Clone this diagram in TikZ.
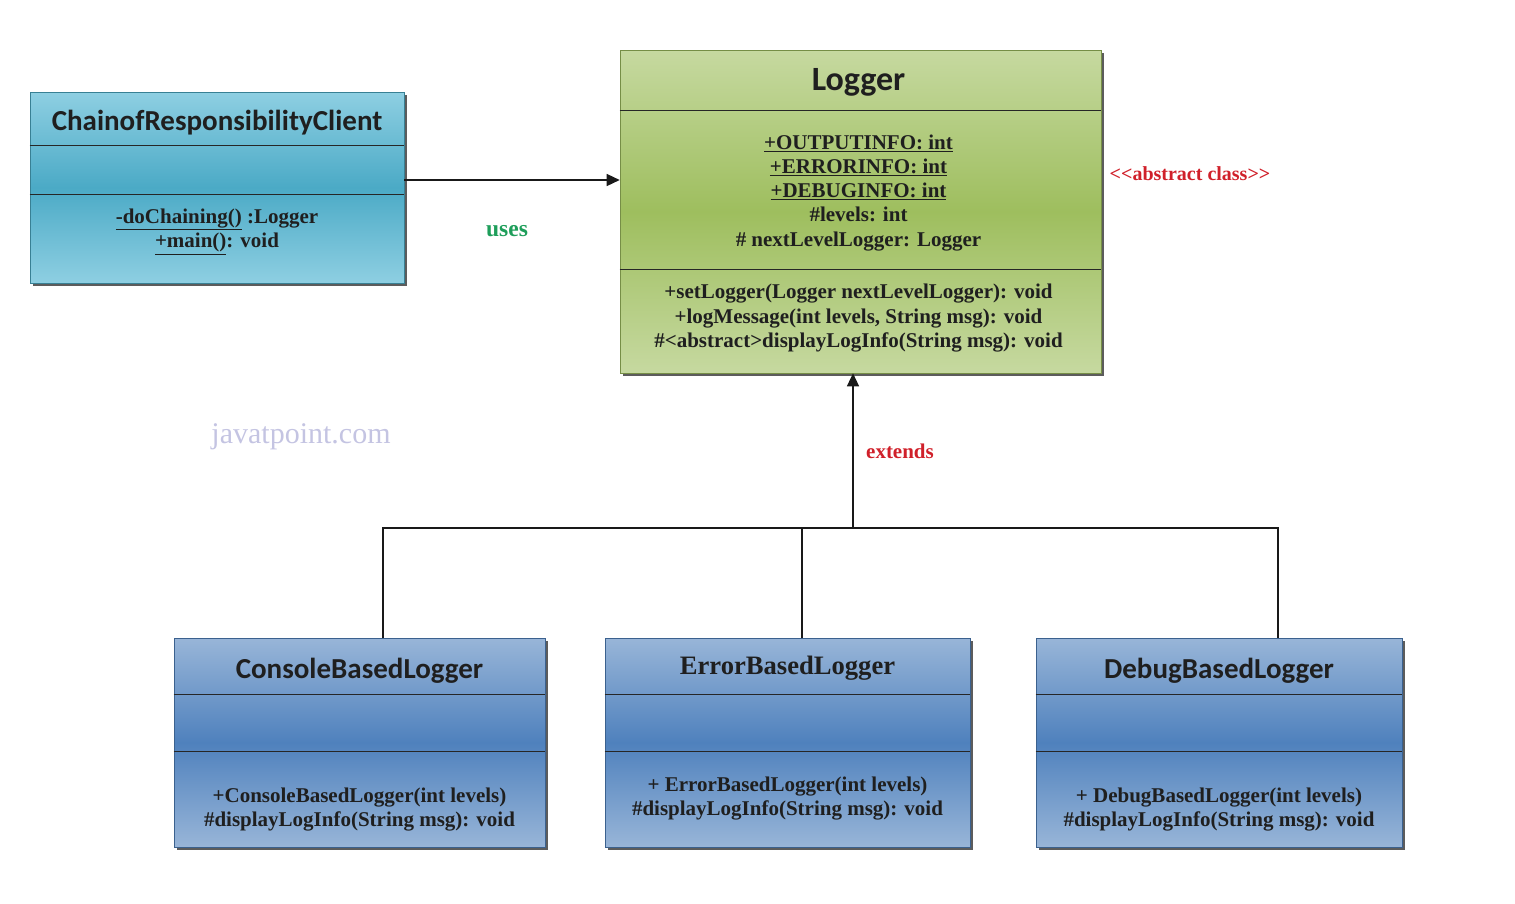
\documentclass[tikz,border=0pt]{standalone}
\usepackage{fontspec}
\setmainfont{Liberation Serif}
\newfontfamily\calibri{Carlito}
\usetikzlibrary{positioning,arrows.meta,shadows,calc}
\definecolor{clienttop}{RGB}{142,207,226}
\definecolor{clientmid}{RGB}{75,170,198}
\definecolor{loggertop}{RGB}{198,217,160}
\definecolor{loggermid}{RGB}{158,190,94}
\definecolor{subtop}{RGB}{152,181,216}
\definecolor{submid}{RGB}{79,129,189}
\definecolor{usesgreen}{RGB}{30,158,90}
\definecolor{notered}{RGB}{208,32,42}
\definecolor{markgray}{RGB}{196,196,226}
\tikzset{
    every node/.style={inner sep=0pt,text=black!88},
    umlbox/.style n args={2}{rectangle,draw=#2!75!black,line width=0.6pt,
        top color=#1,bottom color=#1,middle color=#2,
        drop shadow={shadow xshift=3pt,shadow yshift=-3pt,fill=black!75,opacity=0.85}},
    sep/.style={draw=black!85,line width=1.2pt},
    classname/.style={font=\calibri\bfseries\fontsize{29}{32}\selectfont},
    members/.style={align=center,font=\bfseries\fontsize{21}{24.3}\selectfont},
    link/.style={draw=black!90,line width=1.4pt},
    tip/.style={-{Triangle[length=13pt,width=12pt]}},
    note/.style={font=\bfseries\fontsize{20}{24}\selectfont}
}
\begin{document}
\begin{tikzpicture}[x=1pt,y=-1pt]
\useasboundingbox (0,0) rectangle (1515,903);

% the five classes
\node[umlbox={clienttop}{clientmid},minimum width=374pt,minimum height=191pt] (client) at (217,187.5) {};
\node[umlbox={loggertop}{loggermid},minimum width=481pt,minimum height=323pt] (logger) at (860.5,211.5) {};
\node[umlbox={subtop}{submid},minimum width=371pt,minimum height=209pt] (console) at (359.5,742.5) {};
\node[umlbox={subtop}{submid},minimum width=365pt,minimum height=209pt] (error) at (787.5,742.5) {};
\node[umlbox={subtop}{submid},minimum width=366pt,minimum height=209pt] (debug) at (1219,742.5) {};

% compartments
\draw[sep] ([yshift=-54pt]client.north west) -- ([yshift=-54pt]client.north east);
\draw[sep] ([yshift=-103pt]client.north west) -- ([yshift=-103pt]client.north east);
\draw[sep] ([yshift=-61pt]logger.north west) -- ([yshift=-61pt]logger.north east);
\draw[sep] ([yshift=-220pt]logger.north west) -- ([yshift=-220pt]logger.north east);
\foreach \cls in {console,error,debug}{
    \draw[sep] ([yshift=-57pt]\cls.north west) -- ([yshift=-57pt]\cls.north east);
    \draw[sep] ([yshift=-114pt]\cls.north west) -- ([yshift=-114pt]\cls.north east);
}

% names and members
\node[classname] (clientT) at ([yshift=-31pt]client.north) {ChainofResponsibilityClient};
\node[members] (clientM) at ([yshift=-140pt]client.north) {\underline{-doChaining()} :Logger\\\underline{+main()}: void};

\node[classname,font=\calibri\bfseries\fontsize{34}{36}\selectfont] (loggerT) at ([xshift=-2pt,yshift=-33pt]logger.north) {Logger};
\node[members] (loggerF) at ([xshift=-2pt,yshift=-143pt]logger.north) {\underline{+OUTPUTINFO: int}\\\underline{+ERRORINFO: int}\\\underline{+DEBUGINFO: int}\\\#levels: int\\\# nextLevelLogger: Logger};
\node[members] (loggerM) at ([xshift=-2pt,yshift=-268.5pt]logger.north) {+setLogger(Logger nextLevelLogger): void\\+logMessage(int levels, String msg): void\\\#\textless abstract\textgreater displayLogInfo(String msg): void};

\node[classname] (consoleT) at ([yshift=-33pt]console.north) {ConsoleBasedLogger};
\node[members] (consoleM) at ([yshift=-172pt]console.north) {+ConsoleBasedLogger(int levels)\\\#displayLogInfo(String msg): void};

\node[classname,font=\bfseries\fontsize{26.6}{30}\selectfont] (errorT) at ([yshift=-30pt]error.north) {ErrorBasedLogger};
\node[members] (errorM) at ([yshift=-161pt]error.north) {+ ErrorBasedLogger(int levels)\\\#displayLogInfo(String msg): void};

\node[classname] (debugT) at ([yshift=-33pt]debug.north) {DebugBasedLogger};
\node[members] (debugM) at ([yshift=-172pt]debug.north) {+ DebugBasedLogger(int levels)\\\#displayLogInfo(String msg): void};

% uses
\draw[link,tip] ([yshift=7.5pt]client.east) -- ([yshift=7.5pt]client.east -| logger.west);
\node[font=\bfseries\fontsize{23.5}{26}\selectfont,text=usesgreen] (usesL) at (507,231) {uses};

% extends
\coordinate (bus) at (853,528);
\draw[link,tip] (bus) -- (bus |- logger.south);
\draw[link] ([xshift=23.5pt]console.north) |- (bus);
\draw[link] ([xshift=14.5pt]error.north) -- ([xshift=14.5pt]error.north |- bus);
\draw[link] ([xshift=59pt]debug.north) |- (bus);
\node[note,text=notered,font=\bfseries\fontsize{21}{24}\selectfont] (extendsL) at (900,451) {extends};

\node[note,text=notered] (abstractL) at (1190,174) {\textless\kern0pt\textless abstract class\textgreater\kern0pt\textgreater};
\node[font=\fontsize{30}{32}\selectfont,text=markgray] (mark) at (301,437) {javatpoint.com};
\end{tikzpicture}
\end{document}
